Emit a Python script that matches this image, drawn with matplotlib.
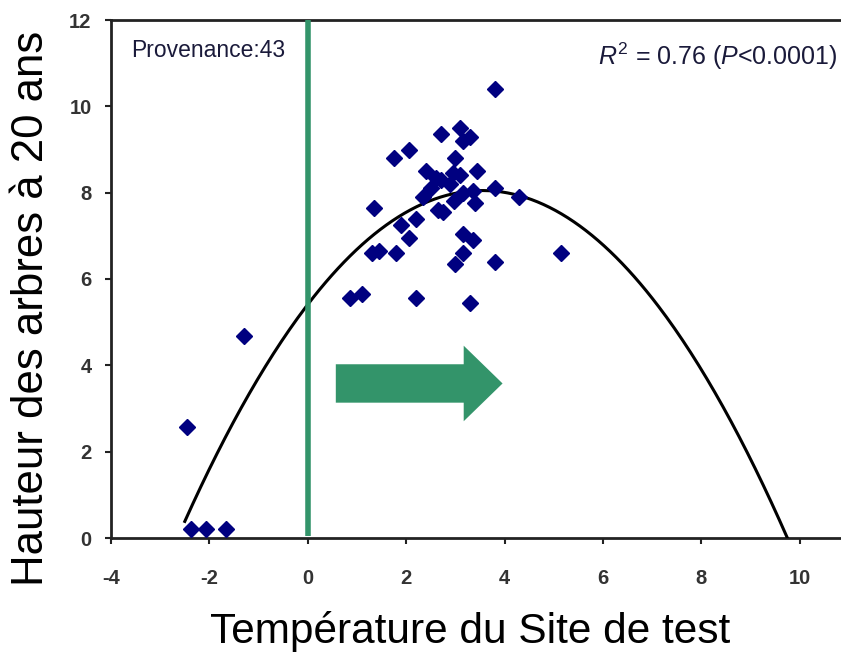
import numpy as np
import matplotlib
matplotlib.use("Agg")
import matplotlib.pyplot as plt
from matplotlib.patches import FancyArrow

plt.rcParams['font.family'] = ['Liberation Sans', 'DejaVu Sans']
plt.rcParams['mathtext.fontset'] = 'custom'
plt.rcParams['mathtext.rm'] = 'Liberation Sans'
plt.rcParams['mathtext.it'] = 'Liberation Sans:italic'
plt.rcParams['axes.unicode_minus'] = False

# Data: temperature of test site (x) vs height of trees at 20 years (y)
temp = [-2.45, -1.3, -2.37, -2.07, -1.66,
        3.8, 3.1, 2.7, 3.3, 3.15, 2.05, 1.75, 3.0, 2.4, 3.45,
        2.95, 2.6, 3.1, 2.7, 2.5, 2.9, 3.35, 3.8, 2.35, 3.15,
        2.98, 4.3, 3.4, 1.35, 2.65, 2.75, 2.2, 1.9, 3.15, 2.05,
        3.35, 1.3, 1.45, 1.8, 3.15, 3.0, 3.8, 5.15, 0.85, 1.1,
        2.2, 3.3]
height = [2.57, 4.68, 0.21, 0.21, 0.21,
          10.4, 9.5, 9.35, 9.3, 9.2, 9.0, 8.8, 8.8, 8.5, 8.5,
          8.45, 8.35, 8.4, 8.3, 8.1, 8.2, 8.05, 8.1, 7.9, 8.0,
          7.8, 7.9, 7.75, 7.65, 7.6, 7.55, 7.4, 7.25, 7.05, 6.95,
          6.9, 6.6, 6.65, 6.6, 6.6, 6.35, 6.4, 6.6, 5.55, 5.65,
          5.55, 5.45]

# Quadratic fit shown on the chart (coefficients)
fit_coef = [-0.2094, 1.4868, 5.41]
fit_range = (-2.5, 9.75)

xticks = [-4, -2, 0, 2, 4, 6, 8, 10]
yticks = [0, 2, 4, 6, 8, 10, 12]

green = '#33946A'

fig = plt.figure(figsize=(8.41, 6.52), dpi=100)
ax = fig.add_axes([111/841, 114/652, 730/841, 518/652])

xf = np.linspace(fit_range[0], fit_range[1], 300)
ax.plot(xf, np.polyval(fit_coef, xf), color='black', lw=2.2, zorder=3)
ax.plot(temp, height, linestyle='none', marker='D', ms=8,
        color='#000080', mec='#000080', zorder=4)

# green vertical line at 0 and arrow
ax.plot([0, 0], [0.05, 12], color=green, lw=4, zorder=5, solid_capstyle='butt')
arrow = FancyArrow(0.57, 3.58, 3.39, 0, width=0.89, head_width=1.75,
                   head_length=0.79, length_includes_head=True,
                   color=green, lw=0, zorder=5)
ax.add_patch(arrow)

ax.set_xlim(-4, 10.84)
ax.set_ylim(0, 12)
ax.set_xticks(xticks)
ax.set_yticks(yticks)
for s in ['left', 'bottom', 'top']:
    ax.spines[s].set_linewidth(2)
    ax.spines[s].set_color('#222222')
ax.spines['right'].set_visible(False)
ax.tick_params(axis='both', direction='out', length=4, width=1.5,
               labelsize=14.5, colors='#222222')
for lab in ax.get_xticklabels() + ax.get_yticklabels():
    lab.set_fontweight('bold')
    lab.set_color('#333333')
ax.tick_params(axis='x', pad=18)
ax.tick_params(axis='y', pad=10)

ax.text(0.027, 0.942, 'Provenance:43', transform=ax.transAxes,
        fontsize=16.5, color='#1a1a3a', ha='left', va='center')
ax.text(0.995, 0.93, r'$R^2$ = 0.76 ($P$<0.0001)', transform=ax.transAxes,
        fontsize=18, color='#1a1a3a', ha='right', va='center')

ax.set_xlabel('Température du Site de test', fontsize=30.5)
ax.set_ylabel('Hauteur des arbres à 20 ans', fontsize=31.5)
ax.xaxis.set_label_coords(0.492, -0.14)
ax.yaxis.set_label_coords(-0.081, 0.443)

fig.savefig('out.png', dpi=100)
